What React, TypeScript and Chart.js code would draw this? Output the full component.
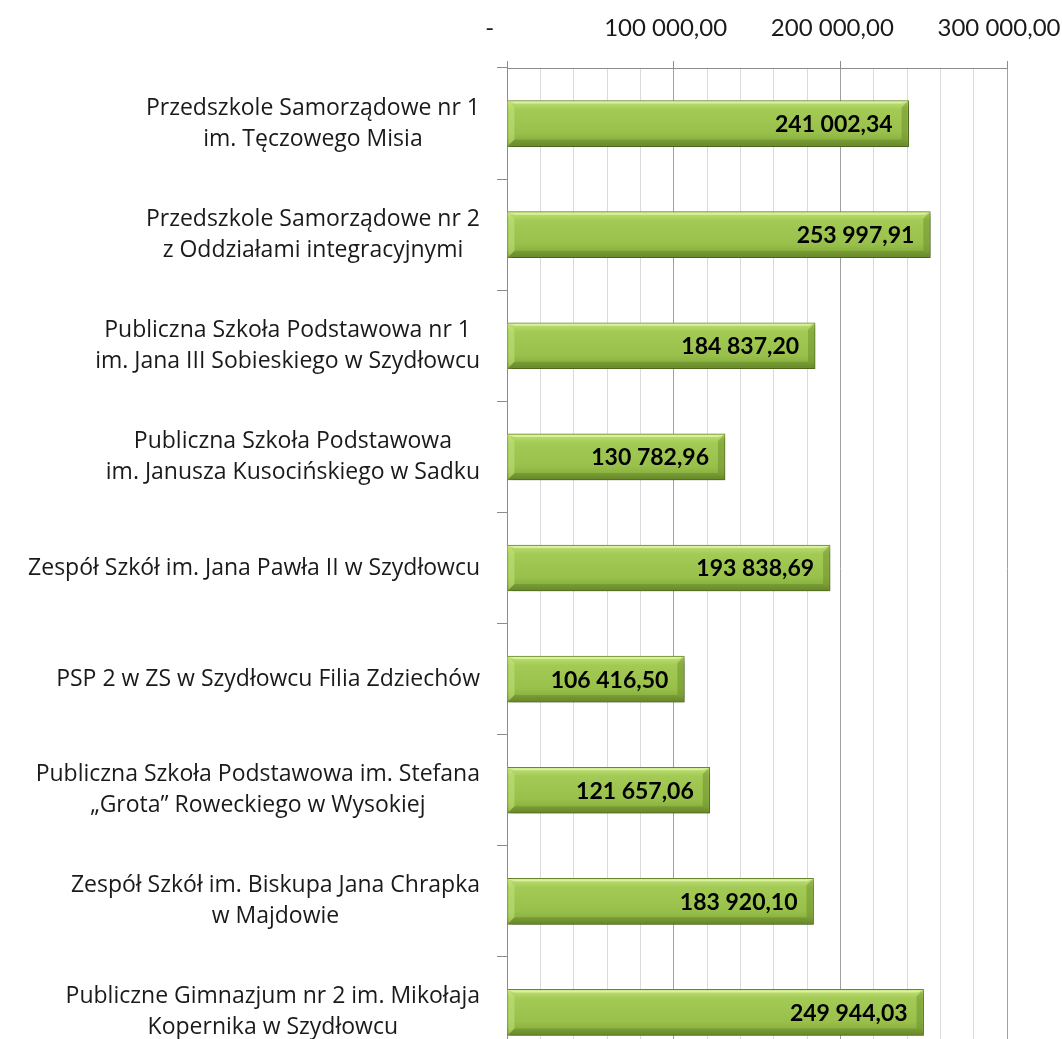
import React, { useEffect, useRef } from "react";
import { Chart, registerables } from "chart.js";

Chart.register(...registerables);

const categories: string[][] = [
  ["Przedszkole Samorządowe nr 1", "im. Tęczowego Misia"],
  ["Przedszkole Samorządowe nr 2", "z Oddziałami integracyjnymi"],
  ["Publiczna Szkoła Podstawowa nr 1", "im. Jana III Sobieskiego w Szydłowcu"],
  ["Publiczna Szkoła Podstawowa", "im. Janusza Kusocińskiego w Sadku"],
  ["Zespół Szkół im. Jana Pawła II w Szydłowcu"],
  ["PSP 2 w ZS w Szydłowcu Filia Zdziechów"],
  ["Publiczna Szkoła Podstawowa im. Stefana", "„Grota” Roweckiego w Wysokiej"],
  ["Zespół Szkół im. Biskupa Jana Chrapka", "w Majdowie"],
  ["Publiczne Gimnazjum nr 2 im. Mikołaja", "Kopernika w Szydłowcu"],
];

const values: number[] = [
  241002.34, 253997.91, 184837.2, 130782.96, 193838.69, 106416.5, 121657.06,
  183920.1, 249944.03,
];

const xTickValues: number[] = [0, 100000, 200000, 300000];
const xTickLabels: string[] = ["-   ", "100 000,00", "200 000,00", "300 000,00"];

const FONT = "Lato, 'Open Sans', sans-serif";
const CAT_FONT = "'Open Sans', Lato, sans-serif";

function fmt(v: number): string {
  const [i, d] = v.toFixed(2).split(".");
  return i.replace(/\B(?=(\d{3})+(?!\d))/g, " ") + "," + d;
}

export default function App() {
  const ref = useRef<HTMLCanvasElement>(null);

  useEffect(() => {
    const canvas = ref.current!;

    const barShadow = {
      id: "barShadow",
      beforeDatasetsDraw(chart: any) {
        const ctx = chart.ctx;
        ctx.save();
        ctx.shadowColor = "rgba(0,0,0,0.35)";
        ctx.shadowBlur = 5;
        ctx.shadowOffsetX = 2;
        ctx.shadowOffsetY = 3;
      },
      afterDatasetsDraw(chart: any) {
        const ctx = chart.ctx;
        ctx.restore();
        const meta = chart.getDatasetMeta(0);
        meta.data.forEach((bar: any, i: number) => {
          const x0 = bar.base;
          const x1 = bar.x;
          const h = bar.height;
          const top = bar.y - h / 2;
          const bot = bar.y + h / 2;
          const b = 7;
          ctx.save();
          ctx.fillStyle = "rgba(225,245,170,0.75)";
          ctx.beginPath();
          ctx.moveTo(x0 + 1, top + 1);
          ctx.lineTo(x1 - 1, top + 1);
          ctx.lineTo(x1 - b, top + 3);
          ctx.lineTo(x0 + b, top + 3);
          ctx.closePath();
          ctx.fill();
          ctx.fillStyle = "rgba(200,230,130,0.5)";
          ctx.beginPath();
          ctx.moveTo(x0 + 1, top + 1);
          ctx.lineTo(x0 + b, top + b);
          ctx.lineTo(x0 + b, bot - b);
          ctx.lineTo(x0 + 1, bot - 1);
          ctx.closePath();
          ctx.fill();
          ctx.fillStyle = "rgba(95,130,35,0.4)";
          ctx.beginPath();
          ctx.moveTo(x1 - 1, top + 1);
          ctx.lineTo(x1 - 1, bot - 1);
          ctx.lineTo(x1 - b, bot - b);
          ctx.lineTo(x1 - b, top + b);
          ctx.closePath();
          ctx.fill();
          ctx.fillStyle = "rgba(90,125,35,0.4)";
          ctx.beginPath();
          ctx.moveTo(x0 + 1, bot - 1);
          ctx.lineTo(x1 - 1, bot - 1);
          ctx.lineTo(x1 - b, bot - b);
          ctx.lineTo(x0 + b, bot - b);
          ctx.closePath();
          ctx.fill();
          ctx.restore();

          ctx.save();
          ctx.font = `bold 23px ${FONT}`;
          ctx.fillStyle = "#000";
          ctx.textAlign = "right";
          ctx.textBaseline = "middle";
          ctx.fillText(fmt(values[i]), x1 - 16, bar.y + 1);
          ctx.restore();
        });
      },
    };

    const catLabels = {
      id: "catLabels",
      afterDraw(chart: any) {
        const ctx = chart.ctx;
        const ys = chart.scales.y;
        ctx.save();
        ctx.font = `23px ${CAT_FONT}`;
        ctx.fillStyle = "#1a1a1a";
        ctx.textAlign = "center";
        ctx.textBaseline = "middle";
        const lh = 31;
        const right = ys.right - 27;
        categories.forEach((lines, i) => {
          const cy = ys.getPixelForValue(i);
          const w = Math.max(...lines.map((l) => ctx.measureText(l).width));
          const cx = right - w / 2;
          lines.forEach((l, k) => {
            ctx.fillText(l, cx, cy + (k - (lines.length - 1) / 2) * lh);
          });
        });
        ctx.restore();
      },
    };

    const chart = new Chart(canvas, {
      type: "bar",
      data: {
        labels: categories.map((c) => c.join(" ")),
        datasets: [
          {
            data: values,
            barThickness: 46,
            borderWidth: 1,
            borderColor: "#6a8a2c",
            backgroundColor: (c: any) => {
              const ch = c.chart;
              const ys = ch.scales && ch.scales.y;
              if (!ys || c.dataIndex === undefined) return "#9cc44c";
              const cy = ys.getPixelForValue(c.dataIndex);
              if (!isFinite(cy)) return "#9cc44c";
              const g = ch.ctx.createLinearGradient(0, cy - 23, 0, cy + 23);
              g.addColorStop(0, "#cfeb8a");
              g.addColorStop(0.08, "#b4d869");
              g.addColorStop(0.2, "#a2ca55");
              g.addColorStop(0.7, "#98c04b");
              g.addColorStop(0.85, "#8cb341");
              g.addColorStop(1, "#6f8f2e");
              return g;
            },
          },
        ],
      },
      options: {
        indexAxis: "y",
        responsive: false,
        animation: false,
        devicePixelRatio: 1,
        layout: { padding: { left: 0, right: 0, top: 0, bottom: 12 } },
        plugins: {
          legend: { display: false },
          tooltip: { enabled: false },
        },
        scales: {
          x: {
            position: "top",
            min: 0,
            max: 300000,
            ticks: {
              stepSize: 20000,
              autoSkip: false,
              maxRotation: 0,
              color: "#1a1a1a",
              font: { family: FONT, size: 24 },
              padding: 18,
              labelOffset: -8,
              callback: (v: any) => {
                const idx = xTickValues.indexOf(Number(v));
                return idx >= 0 ? xTickLabels[idx] : "";
              },
            },
            grid: {
              color: (c: any) =>
                c.tick && c.tick.value % 100000 === 0 ? "#a0a0a0" : "#dadada",
              tickColor: (c: any) =>
                c.tick && c.tick.value % 100000 === 0 ? "#8c8c8c" : "rgba(0,0,0,0)",
              tickLength: 7,
              lineWidth: 1,
            },
            border: { display: true, color: "#8c8c8c" },
            afterFit: (s: any) => {
              s.height = 68;
              s.paddingRight = 55;
              s.paddingLeft = 0;
            },
          },
          y: {
            ticks: { display: false },
            grid: {
              drawOnChartArea: false,
              drawTicks: true,
              tickLength: 10,
              color: "#8c8c8c",
              offset: true,
            },
            border: { display: true, color: "#8c8c8c" },
            afterFit: (s: any) => {
              s.width = 507;
              s.paddingTop = 0;
              s.paddingBottom = 0;
            },
          },
        },
      },
      plugins: [barShadow, catLabels],
    });

    return () => chart.destroy();
  }, []);

  return (
    <div
      style={{
        position: "absolute",
        left: 0,
        top: 0,
        width: 1062,
        height: 1039,
        overflow: "hidden",
        background: "#fff",
      }}
    >
      <canvas ref={ref} width={1062} height={1080} style={{ display: "block" }} />
    </div>
  );
}
